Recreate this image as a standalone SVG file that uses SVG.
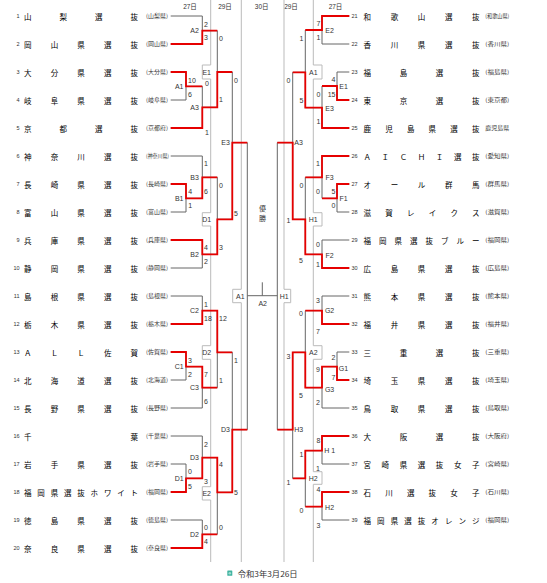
<svg xmlns="http://www.w3.org/2000/svg" width="547" height="583" viewBox="0 0 547 583">
<style>
.t{font-family:"Noto Sans CJK JP","Noto Sans CJK SC",sans-serif;font-size:7.5px;fill:#000;dominant-baseline:central}
.p{font-family:"Noto Sans CJK JP","Noto Sans CJK SC",sans-serif;font-size:5.5px;fill:#333;dominant-baseline:central}
.n{font-family:"Liberation Sans",sans-serif;font-size:5.5px;fill:#333;dominant-baseline:central}
.ne{text-anchor:end}
.s{font-family:"Liberation Sans",sans-serif;font-size:7px;fill:#333;dominant-baseline:central}
.sl{text-anchor:start}
.sr{text-anchor:end}
.lb{font-family:"Liberation Sans",sans-serif;font-size:7px;fill:#333;dominant-baseline:central;text-anchor:middle}
.h{font-family:"Liberation Sans","Noto Sans CJK JP",sans-serif;font-size:6.5px;fill:#333;dominant-baseline:central;text-anchor:middle}
.v{font-family:"Noto Sans CJK JP",sans-serif;font-size:7px;fill:#333;text-anchor:middle;dominant-baseline:central}
.g{stroke:#666;stroke-width:1;fill:none}
.r{stroke:#e60000;stroke-width:1.8;fill:none}
.sep{stroke:#bbb;stroke-width:1;fill:none}
</style>
<rect width="547" height="583" fill="#fff"/>
<g id="headers">
<text class="h" x="190" y="6">27日</text>
<text class="h" x="225" y="6">29日</text>
<text class="h" x="261.7" y="6">30日</text>
<text class="h" x="291" y="6">29日</text>
<text class="h" x="335.5" y="6">27日</text>
</g>
<g id="separators">
<path class="sep" d="M210.7 0V65H202.3V79H210.7V212.7H202.3V226H210.7V345.7H202.3V359.3H210.7V486.7H202.3V500H210.7V562"/>
<path class="sep" d="M241.3 0V289.3H232.7V302.7H241.3V562"/>
<path class="sep" d="M284 0V289.3H290.7V302.7H284V562"/>
<path class="sep" d="M313.3 0V65H322V79H313.3V212.7H322V226H313.3V345.7H322V359.3H313.3V471.7H322V484.3H313.3V562"/>
</g>
<g id="connectors">
<path class="g" d="M170.7 16H202.3M170.7 44H202.3M170.7 72H186M170.7 100H186M170.7 128H202.3M170.7 156H202.3M170.7 184H186M170.7 212H186M170.7 240H202.3M170.7 268H202.3M170.7 296H202.3M170.7 324H202.3M170.7 352H186M170.7 380H186M170.7 408H202.3M170.7 436H202.3M170.7 464H186M170.7 492H186M170.7 520H202.3M170.7 548H202.3
M186 72V100M186 184V212M186 352V380M186 464V492
M186 86.3H202.3M186 198.3H202.3M186 366.7H202.3M186 478.3H202.3
M202.3 16V44M202.3 86.3V128M202.3 156V198.3M202.3 240V268M202.3 296V324M202.3 366.7V408M202.3 436V478.3M202.3 520V548
M202.3 30.7H217.3M202.3 107.3H217.3M202.3 177.3H217.3M202.3 254.3H217.3M202.3 310.7H217.3M202.3 387.7H217.3M202.3 457.7H217.3M202.3 534.3H217.3
M217.3 30.7V107.3M217.3 177.3V254.3M217.3 310.7V387.7M217.3 457.7V534.3
M217.3 72H232.3M217.3 219.3H232.3M217.3 352.3H232.3M217.3 492.3H232.3
M232.3 72V219.3M232.3 352.3V492.3
M232.3 142.7H247.3M232.3 429.7H247.3
M247.3 142.7V429.7
M247.3 295.7H277.3M262.3 282.3V295.7"/>
<path class="g" d="M349.3 16H322M349.3 44H322M349.3 72H337M349.3 100H337M349.3 128H322M349.3 156H322M349.3 184H337M349.3 212H337M349.3 240H322M349.3 268H322M349.3 296H322M349.3 324H322M349.3 352H337M349.3 380H337M349.3 408H322M349.3 436H322M349.3 464H322M349.3 492H322M349.3 520H322
M337 72V100M337 184V212M337 352V380
M337 86H322M337 198.3H322M337 366.7H322
M322 16V44M322 86V128M322 156V198.3M322 240V268M322 296V324M322 366.7V408M322 436V464M322 492V520
M322 30H305.3M322 107.7H305.3M322 177.3H305.3M322 254.3H305.3M322 310.7H305.3M322 387.7H305.3M322 450.7H305.3M322 506.7H305.3
M305.3 30V107.7M305.3 177.3V254.3M305.3 310.7V387.7M305.3 450.7V506.7
M305.3 72.3H292.7M305.3 219.3H292.7M305.3 352.3H292.7M305.3 478.3H292.7
M292.7 72.3V219.3M292.7 352.3V478.3
M292.7 142.7H277.3M292.7 429.7H277.3
M277.3 142.7V429.7"/>
<path class="r" d="M170.7 44H202.3V30.7H217.3"/>
<path class="r" d="M170.7 72H186V86.3H202.3"/>
<path class="r" d="M170.7 128H202.3V107.3H217.3V72H232.3"/>
<path class="r" d="M170.7 184H186V198.3H202.3V177.3H217.3"/>
<path class="r" d="M170.7 240H202.3V254.3H217.3V219.3H232.3V142.7H247.3"/>
<path class="r" d="M170.7 324H202.3V310.7H217.3V352.3H232.3"/>
<path class="r" d="M170.7 352H186V366.7H202.3V387.7H217.3"/>
<path class="r" d="M170.7 492H186V478.3H202.3V457.7H217.3V492.3H232.3V429.7H247.3"/>
<path class="r" d="M170.7 548H202.3V534.3H217.3"/>
<path class="r" d="M349.3 16H322V30H305.3"/>
<path class="r" d="M349.3 100H337V86H322"/>
<path class="r" d="M349.3 128H322V107.7H305.3V72.3H292.7"/>
<path class="r" d="M349.3 156H322V177.3H305.3"/>
<path class="r" d="M349.3 184H337V198.3H322"/>
<path class="r" d="M349.3 268H322V254.3H305.3V219.3H292.7V142.7H277.3"/>
<path class="r" d="M349.3 324H322V310.7H305.3"/>
<path class="r" d="M349.3 380H337V366.7H322V387.7H305.3V352.3H292.7V429.7H277.3"/>
<path class="r" d="M349.3 436H322V450.7H305.3V478.3H292.7"/>
<path class="r" d="M349.3 492H322V506.7H305.3"/>
</g>
<g id="match-labels">
<text class="lb" x="194.5" y="30.7">A2</text>
<text class="lb" x="179.2" y="86.3">A1</text>
<text class="lb" x="194.5" y="107.5">A3</text>
<text class="lb" x="206.7" y="72.3">E1</text>
<text class="lb" x="225.5" y="142.7">E3</text>
<text class="lb" x="194.5" y="177.5">B3</text>
<text class="lb" x="179.2" y="198.3">B1</text>
<text class="lb" x="194.5" y="254.3">B2</text>
<text class="lb" x="206.7" y="219.5">D1</text>
<text class="lb" x="194.5" y="310.8">C2</text>
<text class="lb" x="179.2" y="366.8">C1</text>
<text class="lb" x="194.5" y="387.7">C3</text>
<text class="lb" x="206.7" y="352.5">D2</text>
<text class="lb" x="225.5" y="429.8">D3</text>
<text class="lb" x="194.5" y="457.7">D3</text>
<text class="lb" x="179.2" y="478.5">D1</text>
<text class="lb" x="206.7" y="493.3">E2</text>
<text class="lb" x="194.5" y="534.3">D2</text>
<text class="lb" x="240.3" y="296">A1</text>
<text class="lb" x="262.7" y="303.3">A2</text>
<text class="lb" x="284.3" y="296">H1</text>
<text class="lb" x="329.6" y="30.3">E2</text>
<text class="lb" x="343.5" y="86.5">E1</text>
<text class="lb" x="329.6" y="108">E3</text>
<text class="lb" x="313.3" y="72.5">A1</text>
<text class="lb" x="298.5" y="142.7">A3</text>
<text class="lb" x="329.6" y="177.5">F3</text>
<text class="lb" x="343.5" y="198.3">F1</text>
<text class="lb" x="329.6" y="255.5">F2</text>
<text class="lb" x="313.3" y="219.5">H1</text>
<text class="lb" x="329.6" y="310.8">G2</text>
<text class="lb" x="343.5" y="368">G1</text>
<text class="lb" x="329.6" y="389">G3</text>
<text class="lb" x="313.3" y="352.5">A2</text>
<text class="lb" x="298.7" y="429.8">H3</text>
<text class="lb" x="329.6" y="450.7">H 1</text>
<text class="lb" x="329.6" y="507">H2</text>
<text class="lb" x="313.3" y="478.3">H2</text>
<text class="v" x="262.5" y="207.5">優</text>
<text class="v" x="262.5" y="218">勝</text>
</g>
<g id="scores">
<text class="s sl" x="204" y="24">2</text>
<text class="s sl" x="204" y="37.7">3</text>
<text class="s sl" x="188" y="80">10</text>
<text class="s sl" x="188" y="94.3">6</text>
<text class="s sl" x="205" y="83.7">0</text>
<text class="s sl" x="205" y="132.7">1</text>
<text class="s sl" x="219" y="38.3">0</text>
<text class="s sl" x="219" y="99.3">1</text>
<text class="s sl" x="234" y="80">0</text>
<text class="s sl" x="234" y="213">5</text>
<text class="s sl" x="204" y="163.7">1</text>
<text class="s sl" x="204" y="191.7">6</text>
<text class="s sl" x="188.3" y="191.7">4</text>
<text class="s sl" x="188.3" y="205.7">1</text>
<text class="s sl" x="204" y="247.7">4</text>
<text class="s sl" x="204" y="261.7">2</text>
<text class="s sl" x="219" y="185.7">0</text>
<text class="s sl" x="219" y="247.7">3</text>
<text class="s sl" x="204" y="304">1</text>
<text class="s sl" x="204" y="318.3">18</text>
<text class="s sl" x="188" y="360">3</text>
<text class="s sl" x="188" y="374">2</text>
<text class="s sl" x="204" y="374">7</text>
<text class="s sl" x="204" y="401.7">6</text>
<text class="s sl" x="219" y="318.3">12</text>
<text class="s sl" x="219" y="380">1</text>
<text class="s sl" x="234" y="360">1</text>
<text class="s sl" x="234" y="492.7">5</text>
<text class="s sl" x="204" y="444.3">2</text>
<text class="s sl" x="204" y="481.7">3</text>
<text class="s sl" x="188" y="471.7">0</text>
<text class="s sl" x="188" y="486">5</text>
<text class="s sl" x="219" y="464.3">4</text>
<text class="s sl" x="219" y="527.3">0</text>
<text class="s sl" x="204" y="527.7">0</text>
<text class="s sl" x="204" y="541.7">4</text>
<text class="s sr" x="320.5" y="23.3">7</text>
<text class="s sr" x="320.5" y="37.7">1</text>
<text class="s sr" x="335.5" y="79.3">4</text>
<text class="s sr" x="335.5" y="94.3">15</text>
<text class="s sr" x="320.5" y="94.3">0</text>
<text class="s sr" x="320.5" y="121.7">1</text>
<text class="s sr" x="303.5" y="38.3">1</text>
<text class="s sr" x="303.5" y="100">5</text>
<text class="s sr" x="290.5" y="80">0</text>
<text class="s sr" x="290.5" y="220">1</text>
<text class="s sr" x="320" y="163.3">1</text>
<text class="s sr" x="320" y="191.7">0</text>
<text class="s sr" x="335.5" y="191.7">5</text>
<text class="s sr" x="335.5" y="205.7">0</text>
<text class="s sr" x="320" y="244.3">0</text>
<text class="s sr" x="320" y="264.3">1</text>
<text class="s sr" x="303.5" y="185">0</text>
<text class="s sr" x="303" y="260">5</text>
<text class="s sr" x="320" y="300.7">3</text>
<text class="s sr" x="320" y="331.7">7</text>
<text class="s sr" x="335.5" y="357.3">2</text>
<text class="s sr" x="335.5" y="377.7">7</text>
<text class="s sr" x="320" y="369.3">9</text>
<text class="s sr" x="320" y="402.3">2</text>
<text class="s sr" x="303" y="313.3">0</text>
<text class="s sr" x="303" y="395">5</text>
<text class="s sr" x="290.5" y="356">3</text>
<text class="s sr" x="290.5" y="482.7">1</text>
<text class="s sr" x="320.5" y="440.7">8</text>
<text class="s sr" x="320" y="468.3">1</text>
<text class="s sr" x="320.5" y="489">4</text>
<text class="s sr" x="320.5" y="525">3</text>
<text class="s sr" x="303.5" y="454">1</text>
<text class="s sr" x="303.5" y="510">0</text>
</g>
<g id="team-1"><text class="n ne" x="19.5" y="16">1</text><text class="t" x="24" y="16" textLength="114" lengthAdjust="spacing">山梨選抜</text><text class="p" x="146" y="16" textLength="22" lengthAdjust="spacingAndGlyphs">(山梨県)</text></g>
<g id="team-2"><text class="n ne" x="19.5" y="44">2</text><text class="t" x="24" y="44" textLength="114" lengthAdjust="spacing">岡山県選抜</text><text class="p" x="146" y="44" textLength="22" lengthAdjust="spacingAndGlyphs">(岡山県)</text></g>
<g id="team-3"><text class="n ne" x="19.5" y="72">3</text><text class="t" x="24" y="72" textLength="114" lengthAdjust="spacing">大分県選抜</text><text class="p" x="146" y="72" textLength="22" lengthAdjust="spacingAndGlyphs">(大分県)</text></g>
<g id="team-4"><text class="n ne" x="19.5" y="100">4</text><text class="t" x="24" y="100" textLength="114" lengthAdjust="spacing">岐阜県選抜</text><text class="p" x="146" y="100" textLength="22" lengthAdjust="spacingAndGlyphs">(岐阜県)</text></g>
<g id="team-5"><text class="n ne" x="19.5" y="128">5</text><text class="t" x="24" y="128" textLength="114" lengthAdjust="spacing">京都選抜</text><text class="p" x="146" y="128" textLength="22" lengthAdjust="spacingAndGlyphs">(京都府)</text></g>
<g id="team-6"><text class="n ne" x="19.5" y="156">6</text><text class="t" x="24" y="156" textLength="114" lengthAdjust="spacing">神奈川選抜</text><text class="p" x="146" y="156" textLength="23" lengthAdjust="spacingAndGlyphs">(神奈川県)</text></g>
<g id="team-7"><text class="n ne" x="19.5" y="184">7</text><text class="t" x="24" y="184" textLength="114" lengthAdjust="spacing">長崎県選抜</text><text class="p" x="146" y="184" textLength="22" lengthAdjust="spacingAndGlyphs">(長崎県)</text></g>
<g id="team-8"><text class="n ne" x="19.5" y="212">8</text><text class="t" x="24" y="212" textLength="114" lengthAdjust="spacing">富山県選抜</text><text class="p" x="146" y="212" textLength="22" lengthAdjust="spacingAndGlyphs">(富山県)</text></g>
<g id="team-9"><text class="n ne" x="19.5" y="240">9</text><text class="t" x="24" y="240" textLength="114" lengthAdjust="spacing">兵庫県選抜</text><text class="p" x="146" y="240" textLength="22" lengthAdjust="spacingAndGlyphs">(兵庫県)</text></g>
<g id="team-10"><text class="n ne" x="19.5" y="268">10</text><text class="t" x="24" y="268" textLength="114" lengthAdjust="spacing">静岡県選抜</text><text class="p" x="146" y="268" textLength="22" lengthAdjust="spacingAndGlyphs">(静岡県)</text></g>
<g id="team-11"><text class="n ne" x="19.5" y="296">11</text><text class="t" x="24" y="296" textLength="114" lengthAdjust="spacing">島根県選抜</text><text class="p" x="146" y="296" textLength="22" lengthAdjust="spacingAndGlyphs">(島根県)</text></g>
<g id="team-12"><text class="n ne" x="19.5" y="324">12</text><text class="t" x="24" y="324" textLength="114" lengthAdjust="spacing">栃木県選抜</text><text class="p" x="146" y="324" textLength="22" lengthAdjust="spacingAndGlyphs">(栃木県)</text></g>
<g id="team-13"><text class="n ne" x="19.5" y="352">13</text><text class="t" x="24" y="352" textLength="114" lengthAdjust="spacing">ＡＬＬ佐賀</text><text class="p" x="146" y="352" textLength="22" lengthAdjust="spacingAndGlyphs">(佐賀県)</text></g>
<g id="team-14"><text class="n ne" x="19.5" y="380">14</text><text class="t" x="24" y="380" textLength="114" lengthAdjust="spacing">北海道選抜</text><text class="p" x="146" y="380" textLength="22" lengthAdjust="spacingAndGlyphs">(北海道)</text></g>
<g id="team-15"><text class="n ne" x="19.5" y="408">15</text><text class="t" x="24" y="408" textLength="114" lengthAdjust="spacing">長野県選抜</text><text class="p" x="146" y="408" textLength="22" lengthAdjust="spacingAndGlyphs">(長野県)</text></g>
<g id="team-16"><text class="n ne" x="19.5" y="436">16</text><text class="t" x="24" y="436" textLength="114" lengthAdjust="spacing">千葉</text><text class="p" x="146" y="436" textLength="22" lengthAdjust="spacingAndGlyphs">(千葉県)</text></g>
<g id="team-17"><text class="n ne" x="19.5" y="464">17</text><text class="t" x="24" y="464" textLength="114" lengthAdjust="spacing">岩手県選抜</text><text class="p" x="146" y="464" textLength="22" lengthAdjust="spacingAndGlyphs">(岩手県)</text></g>
<g id="team-18"><text class="n ne" x="19.5" y="492">18</text><text class="t" x="24" y="492" textLength="114" lengthAdjust="spacing">福岡県選抜ホワイト</text><text class="p" x="146" y="492" textLength="22" lengthAdjust="spacingAndGlyphs">(福岡県)</text></g>
<g id="team-19"><text class="n ne" x="19.5" y="520">19</text><text class="t" x="24" y="520" textLength="114" lengthAdjust="spacing">徳島県選抜</text><text class="p" x="146" y="520" textLength="22" lengthAdjust="spacingAndGlyphs">(徳島県)</text></g>
<g id="team-20"><text class="n ne" x="19.5" y="548">20</text><text class="t" x="24" y="548" textLength="114" lengthAdjust="spacing">奈良県選抜</text><text class="p" x="146" y="548" textLength="22" lengthAdjust="spacingAndGlyphs">(奈良県)</text></g>
<g id="team-21"><text class="n" x="351.5" y="16">21</text><text class="t" x="363.5" y="16" textLength="116" lengthAdjust="spacing">和歌山選抜</text><text class="p" x="485.3" y="16" textLength="24" lengthAdjust="spacingAndGlyphs">(和歌山県)</text></g>
<g id="team-22"><text class="n" x="351.5" y="44">22</text><text class="t" x="363.5" y="44" textLength="116" lengthAdjust="spacing">香川県選抜</text><text class="p" x="485.3" y="44" textLength="24" lengthAdjust="spacingAndGlyphs">(香川県)</text></g>
<g id="team-23"><text class="n" x="351.5" y="72">23</text><text class="t" x="363.5" y="72" textLength="116" lengthAdjust="spacing">福島選抜</text><text class="p" x="485.3" y="72" textLength="24" lengthAdjust="spacingAndGlyphs">(福島県)</text></g>
<g id="team-24"><text class="n" x="351.5" y="100">24</text><text class="t" x="363.5" y="100" textLength="116" lengthAdjust="spacing">東京選抜</text><text class="p" x="485.3" y="100" textLength="24" lengthAdjust="spacingAndGlyphs">(東京都)</text></g>
<g id="team-25"><text class="n" x="351.5" y="128">25</text><text class="t" x="363.5" y="128" textLength="116" lengthAdjust="spacing">鹿児島県選抜</text><text class="p" x="485.3" y="128" textLength="24" lengthAdjust="spacingAndGlyphs">鹿児島県</text></g>
<g id="team-26"><text class="n" x="351.5" y="156">26</text><text class="t" x="363.5" y="156" textLength="116" lengthAdjust="spacing">ＡＩＣＨＩ選抜</text><text class="p" x="485.3" y="156" textLength="24" lengthAdjust="spacingAndGlyphs">(愛知県)</text></g>
<g id="team-27"><text class="n" x="351.5" y="184">27</text><text class="t" x="363.5" y="184" textLength="116" lengthAdjust="spacing">オール群馬</text><text class="p" x="485.3" y="184" textLength="24" lengthAdjust="spacingAndGlyphs">(群馬県)</text></g>
<g id="team-28"><text class="n" x="351.5" y="212">28</text><text class="t" x="363.5" y="212" textLength="116" lengthAdjust="spacing">滋賀レイクス</text><text class="p" x="485.3" y="212" textLength="24" lengthAdjust="spacingAndGlyphs">(滋賀県)</text></g>
<g id="team-29"><text class="n" x="351.5" y="240">29</text><text class="t" x="363.5" y="240" textLength="116" lengthAdjust="spacing">福岡県選抜ブルー</text><text class="p" x="485.3" y="240" textLength="24" lengthAdjust="spacingAndGlyphs">(福岡県)</text></g>
<g id="team-30"><text class="n" x="351.5" y="268">30</text><text class="t" x="363.5" y="268" textLength="116" lengthAdjust="spacing">広島県選抜</text><text class="p" x="485.3" y="268" textLength="24" lengthAdjust="spacingAndGlyphs">(広島県)</text></g>
<g id="team-31"><text class="n" x="351.5" y="296">31</text><text class="t" x="363.5" y="296" textLength="116" lengthAdjust="spacing">熊本県選抜</text><text class="p" x="485.3" y="296" textLength="24" lengthAdjust="spacingAndGlyphs">(熊本県)</text></g>
<g id="team-32"><text class="n" x="351.5" y="324">32</text><text class="t" x="363.5" y="324" textLength="116" lengthAdjust="spacing">福井県選抜</text><text class="p" x="485.3" y="324" textLength="24" lengthAdjust="spacingAndGlyphs">(福井県)</text></g>
<g id="team-33"><text class="n" x="351.5" y="352">33</text><text class="t" x="363.5" y="352" textLength="116" lengthAdjust="spacing">三重選抜</text><text class="p" x="485.3" y="352" textLength="24" lengthAdjust="spacingAndGlyphs">(三重県)</text></g>
<g id="team-34"><text class="n" x="351.5" y="380">34</text><text class="t" x="363.5" y="380" textLength="116" lengthAdjust="spacing">埼玉県選抜</text><text class="p" x="485.3" y="380" textLength="24" lengthAdjust="spacingAndGlyphs">(埼玉県)</text></g>
<g id="team-35"><text class="n" x="351.5" y="408">35</text><text class="t" x="363.5" y="408" textLength="116" lengthAdjust="spacing">鳥取県選抜</text><text class="p" x="485.3" y="408" textLength="24" lengthAdjust="spacingAndGlyphs">(鳥取県)</text></g>
<g id="team-36"><text class="n" x="351.5" y="436">36</text><text class="t" x="363.5" y="436" textLength="116" lengthAdjust="spacing">大阪選抜</text><text class="p" x="485.3" y="436" textLength="24" lengthAdjust="spacingAndGlyphs">(大阪府)</text></g>
<g id="team-37"><text class="n" x="351.5" y="464">37</text><text class="t" x="363.5" y="464" textLength="116" lengthAdjust="spacing">宮崎県選抜女子</text><text class="p" x="485.3" y="464" textLength="24" lengthAdjust="spacingAndGlyphs">(宮崎県)</text></g>
<g id="team-38"><text class="n" x="351.5" y="492">38</text><text class="t" x="363.5" y="492" textLength="116" lengthAdjust="spacing">石川選抜女子</text><text class="p" x="485.3" y="492" textLength="24" lengthAdjust="spacingAndGlyphs">(石川県)</text></g>
<g id="team-39"><text class="n" x="351.5" y="520">39</text><text class="t" x="363.5" y="520" textLength="116" lengthAdjust="spacing">福岡県選抜オレンジ</text><text class="p" x="485.3" y="520" textLength="24" lengthAdjust="spacingAndGlyphs">(福岡県)</text></g>
<g id="caption">
<rect x="227.3" y="570.5" width="5" height="5.3" rx="0.6" fill="#3fb3a0"/>
<circle cx="229.8" cy="573.3" r="1.3" fill="#9edcd0"/>
<text x="237.7" y="573.5" textLength="60" lengthAdjust="spacingAndGlyphs" style="font-family:'Noto Sans CJK JP',sans-serif;font-size:8px;fill:#333;dominant-baseline:central">令和3年3月26日</text>
</g>
</svg>
